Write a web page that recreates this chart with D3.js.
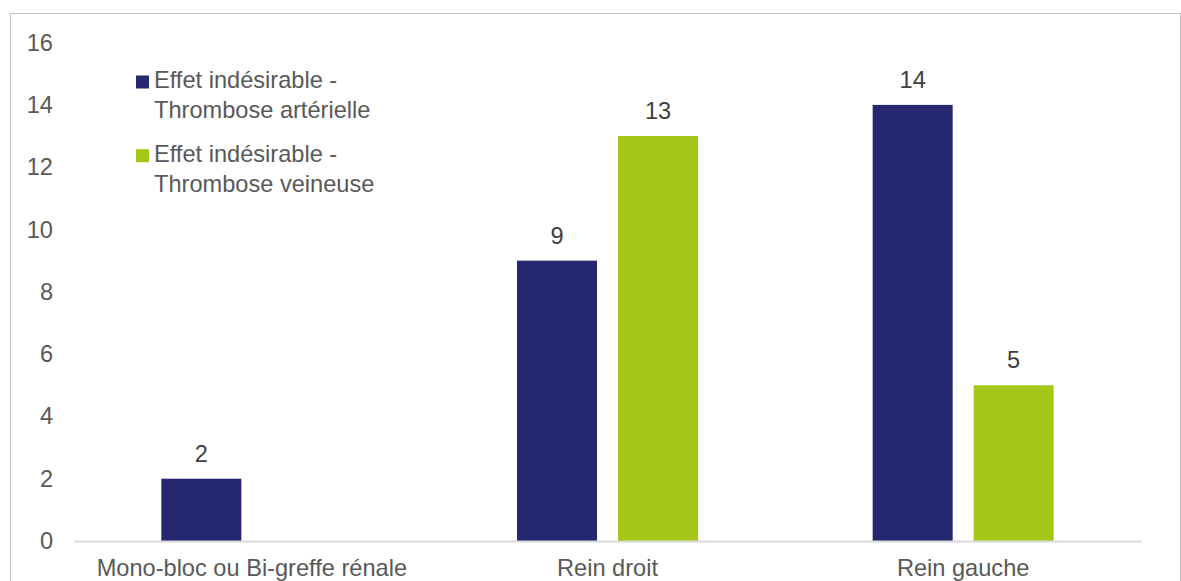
<!DOCTYPE html>
<html>
<head>
<meta charset="utf-8">
<script src="https://cdn.jsdelivr.net/npm/d3@7"></script>
<style>
  html, body { margin: 0; padding: 0; background: #fff; }
  svg { display: block; font-family: "Liberation Sans", Arial, sans-serif; }
</style>
</head>
<body>
<svg id="chart" width="1181" height="581"></svg>
<script>
// Thrombosis adverse events by graft type
const categories = ["Mono-bloc ou Bi-greffe rénale", "Rein droit", "Rein gauche"];
const seriesNames = ["Effet indésirable - Thrombose artérielle", "Effet indésirable - Thrombose veineuse"];
const legendLines = [
  ["Effet indésirable -", "Thrombose artérielle"],
  ["Effet indésirable -", "Thrombose veineuse"]
];
const arterial = [2, 9, 14];
const venous = [null, 13, 5];
const yTicks = [0, 2, 4, 6, 8, 10, 12, 14, 16];
const colors = ["#25286E", "#A3C617"];

const FS = 23.6;
const svg = d3.select("#chart");
const plot = { left: 74, right: 1141, top: 42.6, bottom: 541 };

// Outer chart frame
svg.append("rect")
  .attr("x", 10.5).attr("y", 13.5)
  .attr("width", 1170).attr("height", 620)
  .attr("fill", "none").attr("stroke", "#c4c4c4").attr("stroke-width", 1);

const x0 = d3.scaleBand().domain(categories).range([plot.left, plot.right]).padding(0);
const groupW = 181;
const x1 = d3.scaleBand().domain(seriesNames).range([-groupW / 2, groupW / 2]).paddingInner(21 / 101).paddingOuter(0);
const y = d3.scaleLinear().domain([0, 16]).range([plot.bottom, plot.top]);

// Y axis labels (no line, no ticks)
const yAxis = d3.axisLeft(y).tickValues(yTicks).tickSize(0).tickPadding(0);
const yg = svg.append("g").attr("transform", "translate(53,0)").call(yAxis);
yg.select(".domain").remove();
yg.selectAll("text")
  .attr("font-size", FS).attr("fill", "#595959")
  .attr("font-family", "Liberation Sans, Arial, sans-serif");

// Bars
const rows = categories.map((c, i) => ({ cat: c, vals: [arterial[i], venous[i]] }));
const groups = svg.append("g").selectAll("g").data(rows).join("g")
  .attr("transform", d => `translate(${x0(d.cat) + x0.bandwidth() / 2},0)`);

groups.selectAll("rect")
  .data(d => d.vals.map((v, j) => ({ v, j })).filter(o => o.v != null))
  .join("rect")
  .attr("x", o => x1(seriesNames[o.j]))
  .attr("width", x1.bandwidth())
  .attr("y", o => y(o.v))
  .attr("height", o => y(0) - y(o.v))
  .attr("fill", o => colors[o.j]);

groups.selectAll("text.val")
  .data(d => d.vals.map((v, j) => ({ v, j })).filter(o => o.v != null))
  .join("text")
  .attr("class", "val")
  .attr("x", o => x1(seriesNames[o.j]) + x1.bandwidth() / 2)
  .attr("y", o => y(o.v) - 17)
  .attr("text-anchor", "middle")
  .attr("font-size", FS)
  .attr("fill", "#404040")
  .text(o => o.v);

// X axis baseline and category labels
const xAxis = d3.axisBottom(x0).tickSize(0).tickPadding(0);
const xg = svg.append("g").attr("transform", `translate(0,${plot.bottom})`).call(xAxis);
xg.select(".domain").attr("stroke", "#d9d9d9").attr("stroke-width", 2);
xg.selectAll("text")
  .attr("font-size", FS).attr("fill", "#595959")
  .attr("font-family", "Liberation Sans, Arial, sans-serif")
  .attr("dy", null).attr("y", 35);

// Legend
const legend = svg.append("g");
seriesNames.forEach((s, i) => {
  const baseY = 88 + i * 73.7;
  legend.append("rect")
    .attr("x", 136).attr("y", baseY - 12.5)
    .attr("width", 13).attr("height", 13)
    .attr("fill", colors[i]);
  const t = legend.append("text")
    .attr("x", 154).attr("y", baseY)
    .attr("font-size", FS).attr("fill", "#595959");
  legendLines[i].forEach((line, k) => {
    t.append("tspan").attr("x", 154).attr("y", baseY + k * 30).text(line);
  });
});
</script>
</body>
</html>
